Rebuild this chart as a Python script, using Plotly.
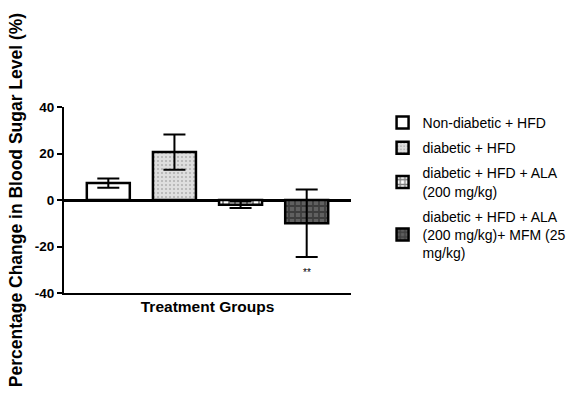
import plotly.graph_objects as go

groups = [
    "Non-diabetic + HFD",
    "diabetic + HFD",
    "diabetic + HFD + ALA<br>(200 mg/kg)",
    "diabetic + HFD + ALA<br>(200 mg/kg)+ MFM (25<br>mg/kg)",
]
means = [7.3, 20.6, -2.0, -10.0]
errors = [2.0, 7.6, 1.4, 14.5]
y_ticks = [-40, -20, 0, 20, 40]
y_tick_labels = ["-40", "-20", "0", "20", "40"]

fills = [
    dict(color="white", pattern=dict(shape="")),
    dict(color="#dedede", pattern=dict(shape=".", fgcolor="#808080", size=4, solidity=0.2)),
    dict(color="white", pattern=dict(shape="+", fgcolor="black", size=6, solidity=0.5)),
    dict(color="#606060", pattern=dict(shape="+", fgcolor="#1a1a1a", size=6, solidity=0.5)),
]

fig = go.Figure()
for i, (g, m, e) in enumerate(zip(groups, means, errors)):
    fig.add_trace(go.Bar(
        x=[i], y=[m], name=g, width=0.65, legendgroup=f"g{i}",
        marker=dict(color=fills[i]["color"], pattern=fills[i]["pattern"],
                    line=dict(color="black", width=2.5)),
        error_y=dict(type="data", array=[e], visible=True, color="black",
                     thickness=2, width=11),
    ))

fig.add_annotation(x=3, y=-31, text="**", showarrow=False,
                   font=dict(size=10, color="black", family="Liberation Sans"))

fig.update_layout(
    width=587, height=397,
    margin=dict(l=64, r=236, t=107, b=104),
    paper_bgcolor="white", plot_bgcolor="white",
    barmode="overlay",
    font=dict(family="Liberation Sans, Arial, sans-serif", color="black"),
    showlegend=True,
    legend=dict(x=1.11, y=1.0, xanchor="left", yanchor="top",
                font=dict(size=14, color="black"),
                tracegroupgap=4, itemwidth=30),
    xaxis=dict(range=[-0.67, 3.67], showticklabels=False, ticks="",
               showline=True, linecolor="black", linewidth=2,
               showgrid=False, zeroline=False, automargin=False,
               title=dict(text="Treatment Groups", standoff=7,
                          font=dict(size=15.5, weight="bold"))),
    yaxis=dict(range=[-40, 40], tickvals=y_ticks,
               ticktext=[f"<b>{t}</b>" for t in y_tick_labels],
               ticks="outside",
               ticklen=5, tickwidth=2, tickcolor="black",
               showline=True, linecolor="black", linewidth=2,
               showgrid=False, zeroline=True, zerolinecolor="black",
               zerolinewidth=2.5, automargin=False,
               tickfont=dict(size=13.5, weight="bold"),
               title=dict(text="Percentage Change in Blood Sugar Level (%)",
                          standoff=8, font=dict(size=17.5, weight="bold"))),
)

fig.write_html("out.html", config={"displayModeBar": False},
               post_script="document.body.style.margin='0';")
